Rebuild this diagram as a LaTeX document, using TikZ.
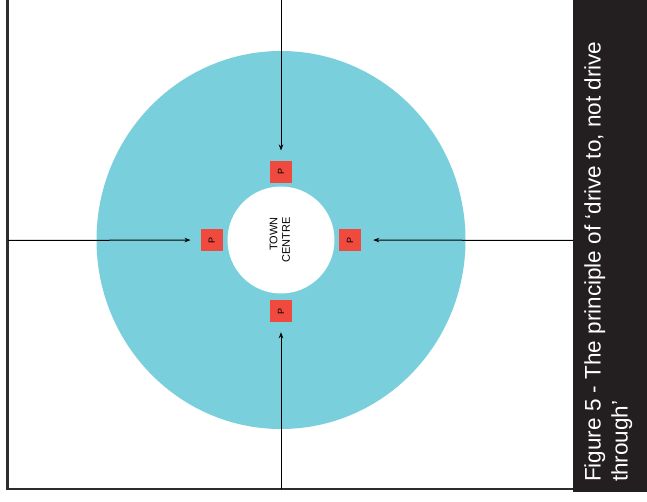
\documentclass[tikz,border=0pt]{standalone}
\usepackage{fontspec}
\setmainfont{Liberation Sans}
\usetikzlibrary{arrows.meta,shapes.geometric}
\definecolor{ringblue}{HTML}{79CFDB}
\definecolor{pred}{HTML}{EF4A3D}
\definecolor{capbg}{HTML}{231F20}
\definecolor{framegrey}{HTML}{2E2C2D}
\tikzset{
  pbox/.style={fill=pred, minimum size=22pt, inner sep=0pt, font=\fontsize{9}{10}\selectfont},
  arr/.style={draw=black, line width=1pt, -{Stealth[length=6pt,width=4.5pt]}},
  frame/.style={draw=framegrey, line width=2.5pt},
}
\begin{document}
\begin{tikzpicture}[x=1pt,y=-1pt]
\useasboundingbox (0,0) rectangle (647,502);
\fill[white] (0,0) rectangle (647,502);
% caption panel
\fill[capbg] (573,0) rectangle (647,492);
\node[rotate=90, anchor=north west, inner sep=0pt, align=left, text=white,
  font=\fontsize{22.5}{27}\selectfont] (cap) at (584,482)
  {Figure 5 - The principle of ‘drive to, not drive\\through’};
% frame
\draw[frame] (7.5,0) -- (7.5,489) -- (573,489);
% ring and centre
\node[ellipse, fill=ringblue, minimum width=369pt, minimum height=378pt, inner sep=0pt] (ring) at (281,240) {};
\node[circle, fill=white, minimum size=107pt, inner sep=0pt,
  font=\fontsize{11}{12.5}\selectfont] (centre) at (281,240)
  {\rotatebox{90}{\begin{tabular}{@{}r@{}}TOWN\\CENTRE\end{tabular}}};
% parking boxes
\node[pbox] (pN) at (281,171.7) {\rotatebox{90}{P}};
\node[pbox] (pS) at (281,311) {\rotatebox{90}{P}};
\node[pbox] (pW) at (211.7,240) {\rotatebox{90}{P}};
\node[pbox] (pE) at (350,240) {\rotatebox{90}{P}};
% road ends
\coordinate (tN) at (281,0);
\coordinate (tS) at (281,489);
\coordinate (tW) at (8,240.5);
\coordinate (tE) at (573,240.5);
\draw[arr, shorten >=10pt] (tN) -- (pN);
\draw[arr, shorten >=10pt] (tS) -- (pS);
\draw[arr, shorten >=10pt] (tW) -- (pW);
\draw[arr, shorten >=12pt] (tE) -- (pE);
\end{tikzpicture}
\end{document}
